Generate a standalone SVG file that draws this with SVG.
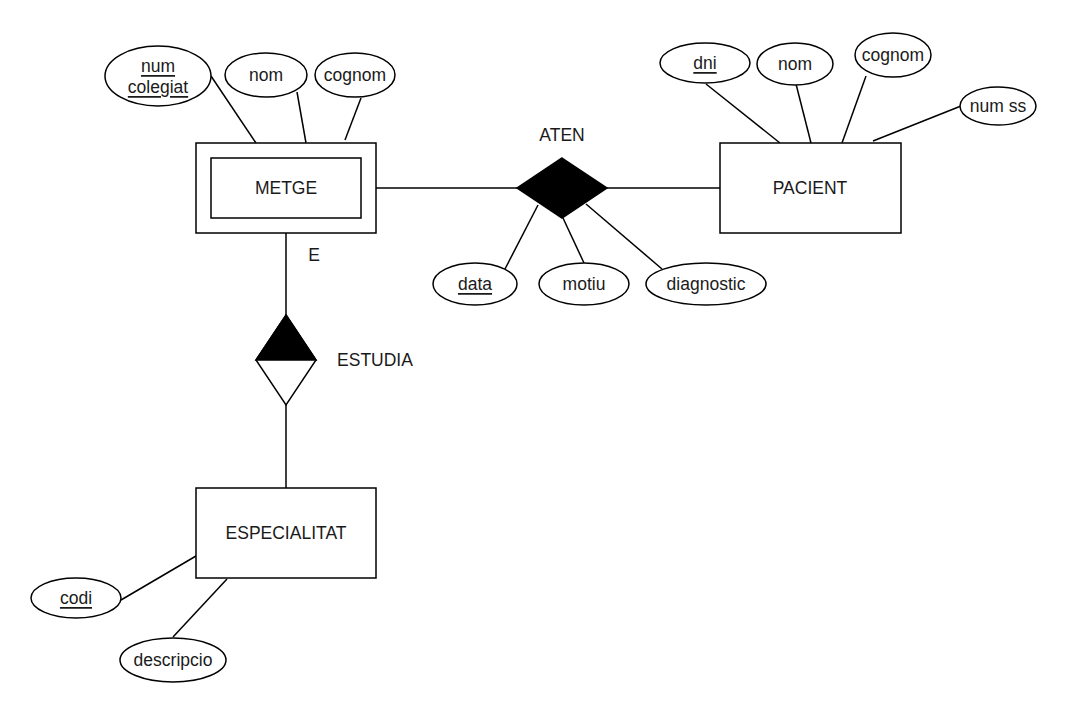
<svg xmlns="http://www.w3.org/2000/svg" width="1067" height="716" viewBox="0 0 1067 716">
  <style>
    .shape { fill: #ffffff; stroke: #000000; stroke-width: 1.5; }
    .line { stroke: #000000; stroke-width: 1.5; fill: none; }
    text { font-family: "Liberation Sans", Arial, sans-serif; font-size: 17.5px; fill: #1a1a1a; text-anchor: middle; dominant-baseline: central; }
    .key { text-decoration: underline; }
  </style>
  <rect width="1067" height="716" fill="#ffffff"/>

  <!-- connectors -->
  <g id="connectors">
    <line class="line" x1="211" y1="76" x2="256" y2="143"/>
    <line class="line" x1="297" y1="92" x2="306" y2="143"/>
    <line class="line" x1="361" y1="98" x2="345" y2="140"/>
    <line class="line" x1="376" y1="188" x2="517" y2="188"/>
    <line class="line" x1="607" y1="188" x2="720" y2="188"/>
    <line class="line" x1="706" y1="84" x2="780" y2="143"/>
    <line class="line" x1="796" y1="84" x2="811" y2="143"/>
    <line class="line" x1="866" y1="76" x2="842" y2="143"/>
    <line class="line" x1="961" y1="106" x2="873" y2="141"/>
    <line class="line" x1="538" y1="205" x2="505" y2="269"/>
    <line class="line" x1="563" y1="218" x2="584" y2="263"/>
    <line class="line" x1="586" y1="204" x2="662" y2="269"/>
    <line class="line" x1="286" y1="233" x2="286" y2="315"/>
    <line class="line" x1="286" y1="405" x2="286" y2="488"/>
    <line class="line" x1="121" y1="600" x2="196" y2="556"/>
    <line class="line" x1="173" y1="637" x2="227" y2="579"/>
  </g>

  <!-- weak entity METGE -->
  <g id="metge">
    <rect class="shape" x="196" y="143" width="180" height="90"/>
    <rect class="shape" x="211" y="158" width="150" height="60"/>
    <text x="286" y="188">METGE</text>
  </g>
  <g id="metge-num-colegiat">
    <ellipse class="shape" cx="158" cy="76" rx="53" ry="30"/>
    <text class="key" x="158" y="66">num</text>
    <text class="key" x="158" y="87">colegiat</text>
  </g>
  <g id="metge-nom">
    <ellipse class="shape" cx="266" cy="75" rx="41" ry="22"/>
    <text x="266" y="75">nom</text>
  </g>
  <g id="metge-cognom">
    <ellipse class="shape" cx="355" cy="75" rx="40" ry="22"/>
    <text x="355" y="75">cognom</text>
  </g>

  <!-- relationship ATEN -->
  <g id="aten">
    <polygon points="562,158 607,188 562,218 517,188" fill="#000000" stroke="#000000" stroke-width="1.5"/>
    <text x="562" y="135">ATEN</text>
  </g>
  <g id="aten-data">
    <ellipse class="shape" cx="475" cy="284" rx="42" ry="21"/>
    <text class="key" x="475" y="284">data</text>
  </g>
  <g id="aten-motiu">
    <ellipse class="shape" cx="584" cy="284" rx="45" ry="21"/>
    <text x="584" y="284">motiu</text>
  </g>
  <g id="aten-diagnostic">
    <ellipse class="shape" cx="706" cy="284" rx="60" ry="21"/>
    <text x="706" y="284">diagnostic</text>
  </g>

  <!-- entity PACIENT -->
  <g id="pacient">
    <rect class="shape" x="720" y="143" width="181" height="90"/>
    <text x="810" y="188">PACIENT</text>
  </g>
  <g id="pacient-dni">
    <ellipse class="shape" cx="705" cy="63" rx="45" ry="20"/>
    <text class="key" x="705" y="63">dni</text>
  </g>
  <g id="pacient-nom">
    <ellipse class="shape" cx="795" cy="64" rx="38" ry="21"/>
    <text x="795" y="64">nom</text>
  </g>
  <g id="pacient-cognom">
    <ellipse class="shape" cx="893" cy="55" rx="38" ry="22"/>
    <text x="893" y="55">cognom</text>
  </g>
  <g id="pacient-num-ss">
    <ellipse class="shape" cx="998" cy="106" rx="38" ry="19"/>
    <text x="998" y="106">num ss</text>
  </g>

  <!-- identifying relationship ESTUDIA -->
  <g id="estudia">
    <polygon points="286,315 316,360 286,405 256,360" fill="#ffffff" stroke="#000000" stroke-width="1.5"/>
    <polygon points="286,315 316,360 256,360" fill="#000000" stroke="#000000" stroke-width="1.5"/>
    <text x="375" y="360">ESTUDIA</text>
    <text x="314" y="255">E</text>
  </g>

  <!-- entity ESPECIALITAT -->
  <g id="especialitat">
    <rect class="shape" x="196" y="488" width="180" height="90"/>
    <text x="286" y="533">ESPECIALITAT</text>
  </g>
  <g id="especialitat-codi">
    <ellipse class="shape" cx="76" cy="598" rx="45" ry="20"/>
    <text class="key" x="76" y="598">codi</text>
  </g>
  <g id="especialitat-descripcio">
    <ellipse class="shape" cx="173" cy="660" rx="53" ry="22"/>
    <text x="173" y="660">descripcio</text>
  </g>
</svg>
